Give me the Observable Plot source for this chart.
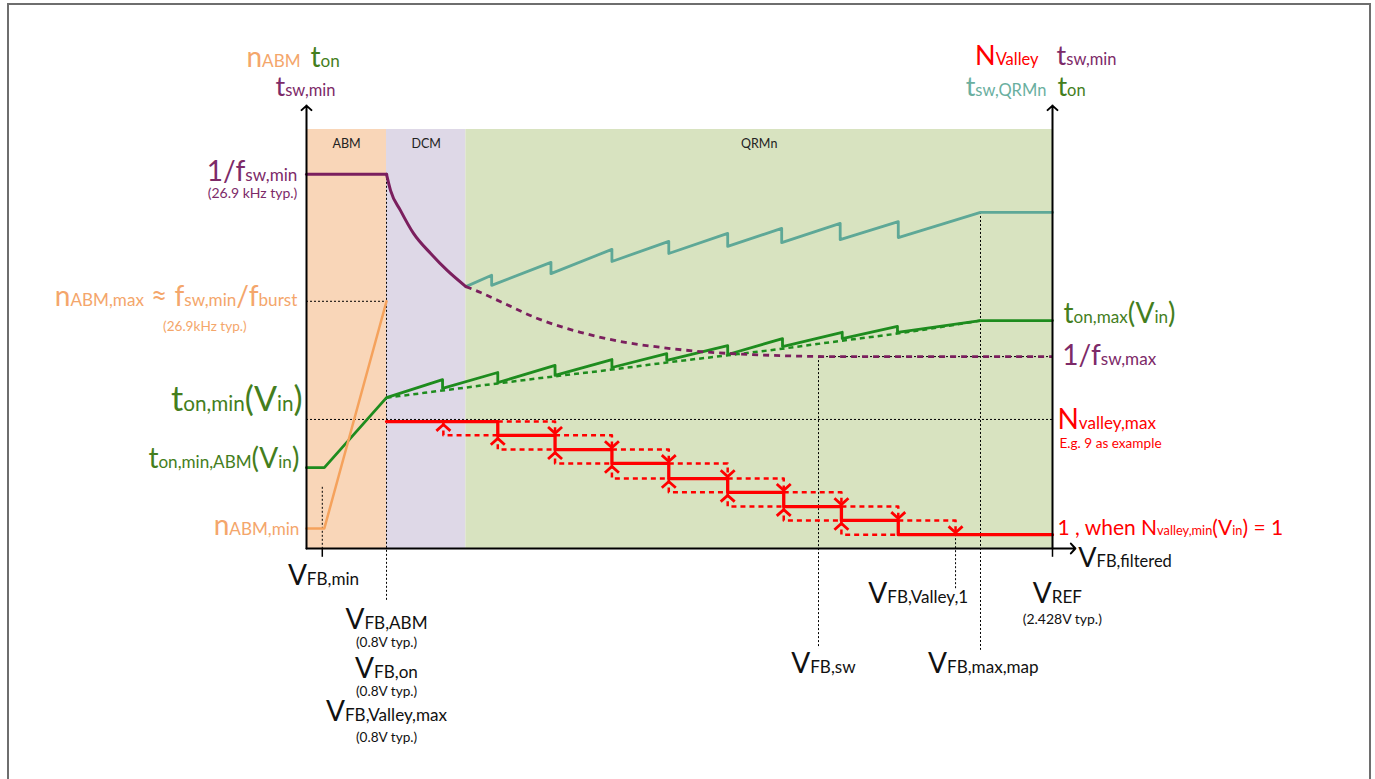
<!DOCTYPE html>
<html>
<head>
<meta charset="utf-8">
<script src="https://cdn.jsdelivr.net/npm/d3@7"></script>
<script src="https://cdn.jsdelivr.net/npm/@observablehq/plot@0.6"></script>
<style>
  html, body { margin: 0; padding: 0; background: #fff; overflow: hidden; }
  #wrap { position: relative; width: 1375px; height: 779px; }
  #frame { position: absolute; left: 7px; top: 3px; width: 1360px; height: 820px;
           border: 2px solid #6e6e6e; pointer-events: none; }
</style>
</head>
<body>
<div id="wrap"><div id="chart"></div><div id="frame"></div></div>
<script>
// ---- Operating modes along V_FB,filtered (V) ----
const modes = ["ABM", "DCM", "QRMn"];
const modeStart = [0.6044, 0.800, 0.994];
const modeEnd = [0.800, 0.994, 2.428];

// ---- Characteristic feedback voltages (V) ----
const vfbOrigin = 0.6044;
const vfbMin = 0.643;
const vfbAbm = 0.800;
const vfbSw = 1.856;
const vfbValley1 = 2.191;
const vfbMaxMap = 2.252;
const vref = 2.428;
const vfbArrowEnd = 2.484;

// ---- Characteristic levels (relative units, 0 = axis) ----
const tswMinLevel = 89.3;
const nAbmMaxLevel = 59.0;
const fswMaxLevel = 45.8;
const tonMinLevel = 30.8;
const axisTop = 105.7;

// t_sw,min : flat in ABM, then decaying period (solid in DCM, dashed beyond)
const tswFlatX = [0.6044, 0.800];
const tswFlatY = [89.3, 89.3];
const tswDcmX = [0.800, 0.810, 0.834, 0.866, 0.908, 0.949, 0.994];
const tswDcmY = [89.3, 85.4, 80.7, 75.2, 70.4, 66.3, 62.5];
const tswExtX = [0.994, 1.030, 1.079, 1.169, 1.274, 1.372, 1.470, 1.568, 1.690, 1.812, 1.900, 2.428];
const tswExtY = [62.5, 61.1, 58.9, 54.9, 51.6, 49.4, 48.0, 47.0, 46.3, 45.9, 45.8, 45.8];

// t_sw,QRMn : saw-tooth switching period in QR mode
const tswQrX = [0.994, 1.057, 1.057, 1.202, 1.202, 1.351, 1.351, 1.490, 1.490, 1.634, 1.634,
                1.766, 1.766, 1.909, 1.909, 2.051, 2.051, 2.252, 2.428];
const tswQrY = [62.5, 65.2, 62.8, 68.3, 65.6, 71.4, 68.5, 73.3, 70.4, 75.2, 72.1,
                76.4, 73.0, 77.6, 73.7, 78.0, 74.2, 80.2, 80.2];

// t_on : on-time (solid with valley jumps, dashed mean trend)
const tonX = [0.6044, 0.648, 0.800, 0.937, 0.937, 1.072, 1.072, 1.212, 1.212, 1.351, 1.351,
              1.485, 1.485, 1.634, 1.634, 1.768, 1.768, 1.914, 1.914, 2.049, 2.049, 2.252, 2.428];
const tonY = [19.3, 19.3, 36.0, 40.3, 38.2, 42.0, 39.6, 43.7, 41.3, 45.1, 43.2,
              46.5, 44.9, 48.4, 46.3, 50.1, 48.2, 51.6, 50.1, 53.0, 51.6, 54.4, 54.4];
const tonTrendX = [0.800, 0.937, 1.072, 1.212, 1.351, 1.485, 1.634, 1.768, 1.914, 2.049, 2.252];
const tonTrendY = [36.0, 37.7, 39.4, 41.1, 42.7, 44.4, 46.1, 47.7, 49.6, 51.3, 54.4];

// n_ABM : number of pulses per burst
const nAbmX = [0.6044, 0.648, 0.800];
const nAbmY = [4.8, 4.8, 59.0];

// N_valley : valley count staircase (9 ... 1) with hysteresis
const valleySteps = [1.072, 1.212, 1.351, 1.490, 1.634, 1.771, 1.912, 2.051];
const valleyLevels = [30.3, 27.0, 23.6, 20.3, 16.7, 13.4, 10.0, 6.7, 3.3];
const valleyReturnStart = 0.939;

// ---- Styles ----
const modeFill = ["#F9D6B8", "#DED8E7", "#D8E3C0"];
const ORANGE = "#F5A25C", PURPLE = "#7B1F5E", TEAL = "#5EA897", GREEN = "#1E8C1E", RED = "#FF0000";
const ORANGE_T = "#F4A66B", PURPLE_T = "#7D2A68", TEAL_T = "#6AAF9F", GREEN_T = "#447E1D", INK = "#111";
const FONT = "Lato, 'Open Sans', sans-serif";

const pts = (xs, ys) => xs.map((x, i) => ({x, y: ys[i]}));

// valley staircase geometry built from the steps and levels
const redSolid = [{x: vfbAbm, y: valleyLevels[0]}];
valleySteps.forEach((s, k) => redSolid.push({x: s, y: valleyLevels[k]}, {x: s, y: valleyLevels[k + 1]}));
redSolid.push({x: vref, y: valleyLevels[valleyLevels.length - 1]});

const redDashed = [];
const upHeads = [], downHeads = [];
valleySteps.forEach((s, k) => {
  const next = k < valleySteps.length - 1 ? valleySteps[k + 1] : vfbValley1;
  const prev = k > 0 ? valleySteps[k - 1] : valleyReturnStart;
  const hi = valleyLevels[k], lo = valleyLevels[k + 1];
  redDashed.push({x: s, y: hi, z: "u" + k}, {x: next, y: hi, z: "u" + k}, {x: next, y: lo, z: "u" + k});
  redDashed.push({x: prev, y: hi, z: "l" + k}, {x: prev, y: lo, z: "l" + k}, {x: s, y: lo, z: "l" + k});
  downHeads.push({x: next, y: lo});
  upHeads.push({x: prev, y: hi});
});

// open chevron marker, tip at the origin, arms pointing down
const chevron = {
  draw(ctx, size) {
    const r = Math.sqrt(size / Math.PI);
    ctx.moveTo(-r, r * 0.9);
    ctx.lineTo(0, 0);
    ctx.lineTo(r, r * 0.9);
  }
};

// text annotations; _{...} marks a subscript
const labels = [
  {t: "n_{ABM}", x: 0.590, y: 114.8, c: ORANGE_T, s: 28, a: "end"},
  {t: "t_{on}", x: 0.614, y: 114.8, c: GREEN_T, s: 28, a: "start"},
  {t: "t_{sw,min}", x: 0.675, y: 107.9, c: PURPLE_T, s: 27, a: "end"},
  {t: "N_{Valley}", x: 2.394, y: 115.3, c: RED, s: 27, a: "end"},
  {t: "t_{sw,min}", x: 2.438, y: 115.3, c: PURPLE_T, s: 27, a: "start"},
  {t: "t_{sw,QRMn}", x: 2.413, y: 108.1, c: TEAL_T, s: 27, a: "end"},
  {t: "t_{on}", x: 2.440, y: 108.1, c: GREEN_T, s: 27, a: "start"},

  {t: "1/f_{sw,min}", x: 0.582, y: 87.8, c: PURPLE_T, s: 28, a: "end"},
  {t: "(26.9 kHz typ.)", x: 0.582, y: 83.6, c: PURPLE_T, s: 14, a: "end"},
  {t: "n_{ABM,max} ≈ f_{sw,min}/f_{burst}", x: 0.582, y: 57.8, c: ORANGE_T, s: 28, a: "end"},
  {t: "(26.9kHz typ.)", x: 0.458, y: 51.8, c: ORANGE_T, s: 13.6, a: "end"},
  {t: "t_{on,min}(V_{in})", x: 0.595, y: 32.7, c: GREEN_T, s: 34, a: "end"},
  {t: "t_{on,min,ABM}(V_{in})", x: 0.587, y: 19.3, c: GREEN_T, s: 28, a: "end"},
  {t: "n_{ABM,min}", x: 0.587, y: 3.3, c: ORANGE_T, s: 28, a: "end"},

  {t: "t_{on,max}(V_{in})", x: 2.455, y: 53.9, c: GREEN_T, s: 28, a: "start"},
  {t: "1/f_{sw,max}", x: 2.452, y: 43.7, c: PURPLE_T, s: 28, a: "start"},
  {t: "N_{valley,max}", x: 2.440, y: 28.6, c: RED, s: 28, a: "start"},
  {t: "E.g. 9 as example", x: 2.445, y: 23.9, c: RED, s: 13.6, a: "start"},
  {t: "1 , when N_{valley,min}(V_{in}) = 1", x: 2.440, y: 3.3, c: RED, s: 21, a: "start"},
  {t: "V_{FB,filtered}", x: 2.491, y: -4.5, c: INK, s: 27, a: "start"},

  {t: "V_{FB,min}", x: 0.646, y: -8.8, c: INK, s: 28, a: "middle"},
  {t: "V_{FB,ABM}", x: 0.800, y: -19.1, c: INK, s: 28, a: "middle"},
  {t: "(0.8V typ.)", x: 0.800, y: -23.4, c: INK, s: 13.6, a: "middle"},
  {t: "V_{FB,on}", x: 0.800, y: -31.0, c: INK, s: 28, a: "middle"},
  {t: "(0.8V typ.)", x: 0.800, y: -35.1, c: INK, s: 13.6, a: "middle"},
  {t: "V_{FB,Valley,max}", x: 0.800, y: -41.1, c: INK, s: 28, a: "middle"},
  {t: "(0.8V typ.)", x: 0.800, y: -46.3, c: INK, s: 13.6, a: "middle"},
  {t: "V_{FB,sw}", x: 1.868, y: -29.6, c: INK, s: 28, a: "middle"},
  {t: "V_{FB,Valley,1}", x: 2.100, y: -13.1, c: INK, s: 28, a: "middle"},
  {t: "V_{FB,max,map}", x: 2.259, y: -29.6, c: INK, s: 28, a: "middle"},
  {t: "V_{REF}", x: 2.440, y: -13.1, c: INK, s: 28, a: "middle"},
  {t: "(2.428V typ.)", x: 2.452, y: -18.1, c: INK, s: 14, a: "middle"}
];

const dotted = {stroke: "#000", strokeWidth: 1, strokeDasharray: "2,2"};
const textMark = (anchor) => Plot.text(labels.filter(d => d.a === anchor), {
  x: "x", y: "y", text: "t", fill: "c", fontSize: "s",
  textAnchor: anchor, lineAnchor: "bottom", fontFamily: FONT
});

const chart = Plot.plot({
  width: 1375, height: 779,
  marginLeft: 306, marginRight: 323, marginTop: 129, marginBottom: 231,
  x: {domain: [vfbOrigin, vref], axis: null},
  y: {domain: [0, 100], axis: null},
  color: {type: "identity"},
  style: {fontFamily: FONT, background: "transparent"},
  marks: [
    // mode bands
    Plot.rect(modes.map((m, i) => ({m, x1: modeStart[i], x2: modeEnd[i], f: modeFill[i]})),
      {x1: "x1", x2: "x2", y1: 0, y2: 100, fill: "f"}),
    Plot.text(modes.map((m, i) => ({m, x: (modeStart[i] + modeEnd[i]) / 2})),
      {x: "x", y: 95.5, text: "m", fontSize: 12.5, fill: "#222", lineAnchor: "bottom", fontFamily: FONT}),

    // dotted guides
    Plot.ruleY([nAbmMaxLevel], {x1: vfbOrigin, x2: vfbAbm, ...dotted}),
    Plot.ruleY([tonMinLevel], {x1: vfbOrigin, x2: vref, ...dotted}),
    Plot.ruleY([fswMaxLevel], {x1: vfbSw, x2: vref, ...dotted}),
    Plot.ruleX([vfbMin], {y1: 14.6, y2: 0, ...dotted}),
    Plot.ruleX([vfbAbm], {y1: tswMinLevel, y2: -12.4, ...dotted}),
    Plot.ruleX([vfbSw], {y1: fswMaxLevel, y2: -23.9, ...dotted}),
    Plot.ruleX([vfbValley1], {y1: valleyLevels[8], y2: -10.0, ...dotted}),
    Plot.ruleX([vfbMaxMap], {y1: 80.2, y2: -24.3, ...dotted}),

    // on-time
    Plot.line(pts(tonTrendX, tonTrendY), {x: "x", y: "y", stroke: GREEN, strokeWidth: 2.5,
      strokeDasharray: "5,4", strokeLinecap: "butt", curve: "monotone-x"}),
    Plot.line(pts(tonX, tonY), {x: "x", y: "y", stroke: GREEN, strokeWidth: 2.8}),
    // pulses per burst
    Plot.line(pts(nAbmX, nAbmY), {x: "x", y: "y", stroke: ORANGE, strokeWidth: 2.5}),
    // QR switching period
    Plot.line(pts(tswQrX, tswQrY), {x: "x", y: "y", stroke: TEAL, strokeWidth: 2.8}),
    // minimum switching period
    Plot.line(pts(tswExtX, tswExtY), {x: "x", y: "y", stroke: PURPLE, strokeWidth: 2.8,
      strokeDasharray: "6,5", strokeLinecap: "butt", curve: "monotone-x"}),
    Plot.line(pts(tswFlatX, tswFlatY), {x: "x", y: "y", stroke: PURPLE, strokeWidth: 3}),
    Plot.line(pts(tswDcmX, tswDcmY), {x: "x", y: "y", stroke: PURPLE, strokeWidth: 3, curve: "monotone-x"}),

    // valley count staircase
    Plot.line(redDashed, {x: "x", y: "y", z: "z", stroke: RED, strokeWidth: 2.5,
      strokeDasharray: "5,4", strokeLinecap: "butt"}),
    Plot.line(redSolid, {x: "x", y: "y", stroke: RED, strokeWidth: 3.3}),
    Plot.dot(upHeads, {x: "x", y: "y", symbol: chevron, r: 7, dy: 3, stroke: RED, fill: "none", strokeWidth: 2.8}),
    Plot.dot(downHeads, {x: "x", y: "y", symbol: chevron, r: 7, dy: -2, rotate: 180, stroke: RED, fill: "none", strokeWidth: 2.8}),

    // axes
    Plot.ruleX([vfbMin, vref], {y1: 0, y2: -2.1, stroke: "#000", strokeWidth: 1.5}),
    Plot.arrow([{x1: vfbOrigin, y1: 0, x2: vfbOrigin, y2: axisTop},
                {x1: vref, y1: 0, x2: vref, y2: axisTop},
                {x1: vfbOrigin, y1: 0, x2: vfbArrowEnd, y2: 0}],
      {x1: "x1", y1: "y1", x2: "x2", y2: "y2", stroke: "#000", strokeWidth: 2, headLength: 5, headAngle: 95}),

    // annotations
    textMark("end"),
    textMark("start"),
    textMark("middle")
  ]
});

document.getElementById("chart").appendChild(chart);

// turn _{...} runs into smaller subscript spans
function applySubscripts(svg) {
  for (const el of svg.querySelectorAll("text")) {
    const s = el.textContent;
    if (!s.includes("_{")) continue;
    const base = parseFloat(getComputedStyle(el).fontSize);
    el.textContent = "";
    for (const part of s.split(/(_\{[^}]*\})/)) {
      if (!part) continue;
      const sub = part.startsWith("_{");
      const span = document.createElementNS("http://www.w3.org/2000/svg", "tspan");
      span.textContent = sub ? part.slice(2, -1) : part;
      if (sub) span.setAttribute("font-size", (base * 0.61).toFixed(1));
      el.appendChild(span);
    }
  }
}
applySubscripts(chart);
</script>
</body>
</html>
